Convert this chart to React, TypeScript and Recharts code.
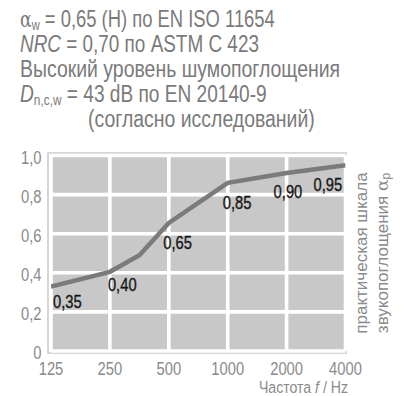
import React from "react";
import { LineChart, Line, XAxis, YAxis, CartesianGrid, LabelList } from "recharts";

const frequencies = [125, 250, 354, 500, 1000, 2000, 4000];
const absorption = [0.33, 0.405, 0.49, 0.655, 0.86, 0.91, 0.95];
const valueLabels = ["0,35", "0,40", "", "0,65", "0,85", "0,90", "0,95"];
const xTicks = [125, 250, 500, 1000, 2000, 4000];
const yTicks = [0, 0.2, 0.4, 0.6, 0.8, 1];
const yTickLabels = ["0", "0,2", "0,4", "0,6", "0,8", "1,0"];

const data = frequencies.map((f, i) => ({ f, a: absorption[i], label: valueLabels[i] }));

// label offsets (style only): [dx, dy of text centre]
const labelOffsets: [number, number][] = [
  [2, 15.5],
  [-2, 13],
  [0, 0],
  [-5.6, 20],
  [-5, 20],
  [-13, 18],
  [-32, 19],
];

const SANS = '"Liberation Sans", Arial, sans-serif';
const ALPHA = '"DejaVu Serif", "Liberation Serif", serif';
const SQ = 0.82; // horizontal condensing factor

const W = 409;
const H = 396;
const PLOT = { left: 51, right: 345.5, top: 155.5, bottom: 351 };

const renderLabel = (props: any) => {
  const { x, y, value, index } = props;
  if (!value) return null;
  const [dx, dy] = labelOffsets[index] || [0, 0];
  return (
    <text
      transform={`translate(${x + dx},${y + dy + 6.5}) scale(${SQ},1)`}
      textAnchor="start"
      fontFamily={SANS}
      fontSize={18}
      fill="#161616"
      stroke="#161616"
      strokeWidth={0.35}
    >
      {value}
    </text>
  );
};

const XTick = (props: any) => {
  const { x, y, payload } = props;
  return (
    <text
      transform={`translate(${x},${y + 23.5}) scale(${SQ},1)`}
      textAnchor="middle"
      fontFamily={SANS}
      fontSize={18}
      fill="#8a8a8a"
    >
      {payload.value}
    </text>
  );
};

const YTick = (props: any) => {
  const { x, y, payload } = props;
  const i = yTicks.indexOf(payload.value);
  return (
    <text
      transform={`translate(${x - 9.5},${y + 8.2}) scale(${SQ},1)`}
      textAnchor="end"
      fontFamily={SANS}
      fontSize={18}
      fill="#8a8a8a"
    >
      {i >= 0 ? yTickLabels[i] : payload.value}
    </text>
  );
};

const titleProps = {
  fontFamily: SANS,
  fontSize: 23.3,
  fill: "#7a7a7a",
};

export default function App() {
  return (
    <div style={{ position: "absolute", left: 0, top: 0, width: W, height: H, background: "#fff", overflow: "hidden" }}>
      <div
        style={{
          position: "absolute",
          left: 47.3,
          top: 152.3,
          width: 347.3 - 47.3,
          height: 354.3 - 152.3,
          border: "2px solid #d6d6d6",
          boxSizing: "border-box",
        }}
      />

      <div style={{ position: "absolute", left: 0, top: 0 }}>
        <LineChart
          width={W}
          height={H}
          data={data}
          margin={{ top: PLOT.top, left: PLOT.left - 40, right: W - PLOT.right, bottom: H - PLOT.bottom - 30 }}
        >
          <CartesianGrid fill="#c8c8c8" fillOpacity={1} stroke="#ffffff" strokeWidth={3.6} />
          <XAxis
            dataKey="f"
            type="number"
            scale="log"
            domain={[125, 4000]}
            ticks={xTicks}
            allowDataOverflow
            height={30}
            axisLine={false}
            tickLine={false}
            tickSize={0}
            tickMargin={0}
            interval={0}
            tick={<XTick />}
          />
          <YAxis
            type="number"
            domain={[0, 1]}
            ticks={yTicks}
            width={40}
            axisLine={false}
            tickLine={false}
            tickSize={0}
            tickMargin={0}
            interval={0}
            tick={<YTick />}
          />
          <Line
            dataKey="a"
            type="linear"
            stroke="#7b7b7b"
            strokeWidth={4.5}
            dot={false}
            activeDot={false}
            isAnimationActive={false}
          >
            <LabelList dataKey="label" content={renderLabel} />
          </Line>
        </LineChart>
      </div>

      <svg style={{ position: "absolute", left: 0, top: 0 }} width={W} height={H}>
        <text transform="translate(20,26.7) scale(0.79,1)" {...titleProps}>
          <tspan fontFamily={ALPHA} fontSize={22}>α</tspan>
          <tspan fontSize={14} dy={3}>w</tspan>
          <tspan dy={-3}> = 0,65 (H) по EN ISO 11654</tspan>
        </text>
        <text transform="translate(20,51.7) scale(0.812,1)" {...titleProps}>
          <tspan fontStyle="italic">NRC</tspan> = 0,70 по ASTM C 423
        </text>
        <text transform="translate(20,76.7) scale(0.835,1)" {...titleProps}>
          Высокий уровень шумопоглощения
        </text>
        <text transform="translate(20,101.7) scale(0.82,1)" {...titleProps}>
          <tspan fontStyle="italic">D</tspan>
          <tspan fontSize={14.5} dy={3.5}>n,c,w</tspan>
          <tspan dy={-3.5}> = 43 dB по EN 20140-9</tspan>
        </text>
        <text transform="translate(88,126.7) scale(0.835,1)" {...titleProps}>
          (согласно исследований)
        </text>

        <text
          transform="translate(361,253) rotate(-90)"
          textAnchor="middle"
          dominantBaseline="central"
          fontFamily={SANS}
          fontSize={17}
          fill="#8a8a8a"
        >
          практическая шкала
        </text>
        <text
          transform="translate(382,253) rotate(-90)"
          textAnchor="middle"
          dominantBaseline="central"
          fontFamily={SANS}
          fontSize={17}
          fill="#8a8a8a"
        >
          звукопоглощения <tspan fontFamily={ALPHA}>α</tspan>
          <tspan fontSize={12} dy={4}>p</tspan>
        </text>
        <text
          transform="translate(348,393) scale(0.83,1)"
          textAnchor="end"
          fontFamily={SANS}
          fontSize={17}
          fill="#8a8a8a"
        >
          Частота <tspan fontStyle="italic">f</tspan> / Hz
        </text>
      </svg>
    </div>
  );
}
